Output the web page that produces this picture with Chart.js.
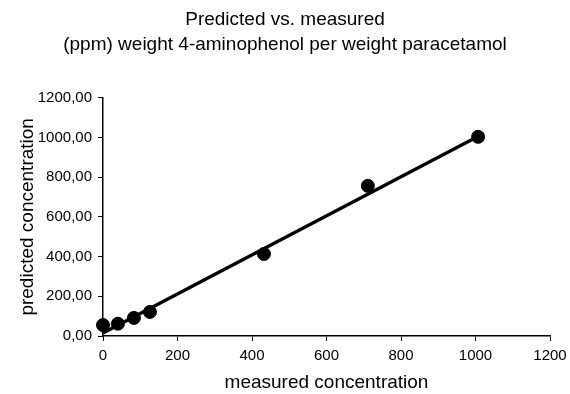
<!DOCTYPE html>
<html>
<head>
<meta charset="utf-8">
<script src="https://cdn.jsdelivr.net/npm/chart.js@4"></script>
<style>
html,body{margin:0;padding:0;background:#fff;}
</style>
</head>
<body>
<canvas id="c" width="570" height="394"></canvas>
<script>
const titleLines = ["Predicted vs. measured", "(ppm) weight 4-aminophenol per weight paracetamol"];
const xTitle = "measured concentration";
const yTitle = "predicted concentration";
const measured = [0, 40, 83, 126, 432, 711, 1007];
const predicted = [55, 62, 91, 121, 413, 756, 1003];
const fitX = [0, 1005];
const fitY = [15, 1003];

const pts = measured.map((x, i) => ({x: x, y: predicted[i]}));
const fit = fitX.map((x, i) => ({x: x, y: fitY[i]}));
const FONT = "'Liberation Sans', Arial, sans-serif";

new Chart(document.getElementById('c'), {
  type: 'scatter',
  data: {
    datasets: [
      {data: fit, showLine: true, borderColor: '#000', borderWidth: 3.3, pointRadius: 0, order: 2, clip: false},
      {data: pts, backgroundColor: '#000', borderColor: '#000', pointRadius: 6.5, pointHoverRadius: 6.5, order: 1, clip: false}
    ]
  },
  options: {
    responsive: false,
    animation: false,
    layout: {padding: {left: 0, right: 0, top: 0, bottom: 0}},
    plugins: {
      legend: {display: false},
      tooltip: {enabled: false},
      title: {
        display: true, text: titleLines, color: '#000',
        font: {family: FONT, size: 19, weight: 'normal', lineHeight: 1.32},
        padding: {top: 7.5, bottom: 40}
      }
    },
    scales: {
      x: {
        type: 'linear', min: 0, max: 1200,
        ticks: {stepSize: 200, color: '#000', font: {family: FONT, size: 15}, padding: 6, maxRotation: 0,
          callback: v => String(v)},
        grid: {drawOnChartArea: false, color: '#000', tickLength: 5, tickWidth: 1},
        border: {color: '#000', width: 1.5},
        title: {display: true, text: xTitle, color: '#000', font: {family: FONT, size: 19}, padding: {top: 0, bottom: 0}},
        afterFit: s => { s.height = 58; s.paddingRight = 20; s.paddingLeft = 0; }
      },
      y: {
        type: 'linear', min: 0, max: 1200,
        ticks: {stepSize: 200, color: '#000', font: {family: FONT, size: 15}, padding: 6,
          callback: v => v.toFixed(2).replace('.', ',')},
        grid: {drawOnChartArea: false, color: '#000', tickLength: 5, tickWidth: 1},
        border: {color: '#000', width: 1.5},
        title: {display: true, text: yTitle, color: '#000', font: {family: FONT, size: 19}, padding: {top: 16.6, bottom: 4}},
        afterFit: s => { s.width = 103; }
      }
    }
  }
});
</script>
</body>
</html>
